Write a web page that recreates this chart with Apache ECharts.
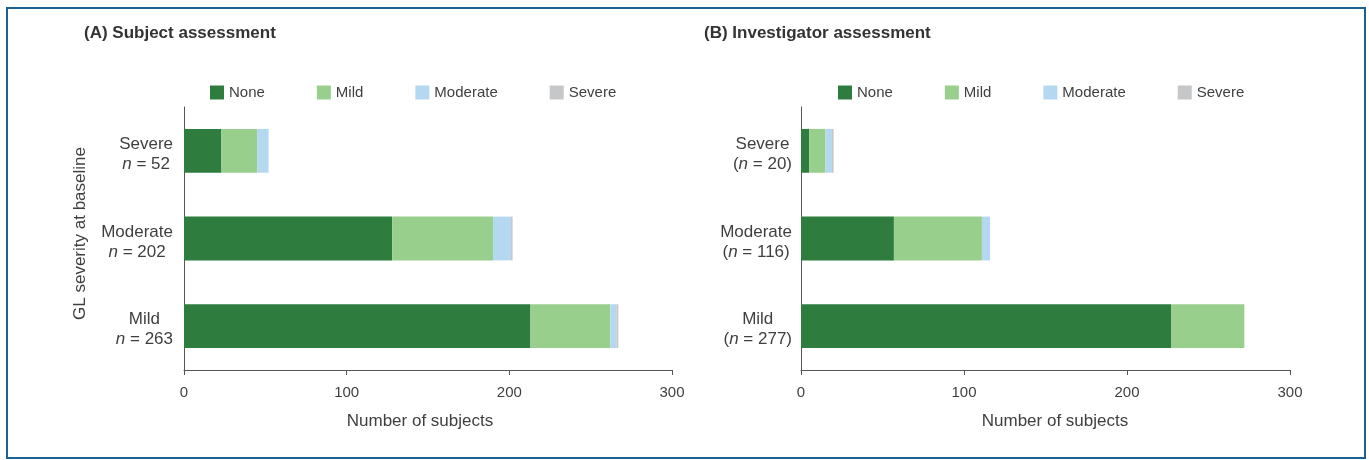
<!DOCTYPE html>
<html>
<head>
<meta charset="utf-8">
<script src="https://cdn.jsdelivr.net/npm/echarts@6/dist/echarts.min.js"></script>
<style>
  html, body { margin: 0; padding: 0; background: #fff; }
  #main { width: 1369px; height: 460px; position: absolute; left: 0; top: 0; }
  #frame {
    position: absolute; left: 6px; top: 7px; width: 1356px; height: 448px;
    border: 2px solid #1d6190; pointer-events: none;
  }
</style>
</head>
<body>
<div id="main"></div>
<div id="frame"></div>
<script>
// categories, bottom to top
const categories = ['Mild', 'Moderate', 'Severe']
const nSubject = [263, 202, 52]
const nInvestigator = [277, 116, 20]
const legendNames = ['None', 'Mild', 'Moderate', 'Severe']
const xTicks = [0, 100, 200, 300]

// (A) subject assessment
const noneA = [213, 128, 23]
const mildA = [49, 62, 22]
const moderateA = [4, 11, 7]
const severeA = [1, 1, 0]

// (B) investigator assessment
const noneB = [227, 57, 5]
const mildB = [45, 54, 10]
const moderateB = [0, 5, 4]
const severeB = [0, 0, 1]

const colors = ['#2e7d3f', '#99cf8c', '#b4d8ef', '#c6c7c9']
const textColor = '#3f3f3f'
const font = '"Liberation Sans", Arial, sans-serif'

let myChart = echarts.init(document.getElementById('main'))

function catLabel(counts, paren) {
  return function (value, idx) {
    let n = counts[idx]
    if (paren) return '{a|' + value + '}\n{a|(}{i|n}{a| = ' + n + ')}'
    return '{a|' + value + '}\n{i|n}{a| = ' + n + '}'
  }
}

const richLabel = {
  a: { fontSize: 17, color: textColor, fontFamily: font, lineHeight: 20, align: 'center' },
  i: { fontSize: 17, color: textColor, fontFamily: font, lineHeight: 20, fontStyle: 'italic', align: 'center' }
}

function xAxisFor(idx, namePad) {
  return {
    gridIndex: idx,
    type: 'value',
    min: xTicks[0],
    max: xTicks[xTicks.length - 1],
    interval: 100,
    name: 'Number of subjects',
    nameLocation: 'middle',
    nameGap: 43,
    nameTextStyle: { fontSize: 17, color: textColor, fontFamily: font, padding: namePad },
    axisLine: { show: true, lineStyle: { color: '#555', width: 1 } },
    axisTick: { show: true, length: 5, lineStyle: { color: '#555' } },
    axisLabel: { fontSize: 15, color: textColor, fontFamily: font, margin: 15 },
    splitLine: { show: false }
  }
}

function makeSeries(stack, xi, lists) {
  return legendNames.map(function (name, k) {
    return {
      name: name,
      type: 'bar',
      stack: stack,
      xAxisIndex: xi,
      yAxisIndex: xi,
      barWidth: '50%',
      itemStyle: { color: colors[k] },
      data: lists[k]
    }
  })
}

let legendBase = {
  data: legendNames,
  top: 80,
  itemWidth: 14,
  itemHeight: 14,
  itemGap: 52,
  icon: 'rect',
  textStyle: { fontSize: 15, color: textColor, fontFamily: font }
}

let option = {
  animation: false,
  color: colors,
  title: [
    { text: '(A) Subject assessment', left: 84, top: 25, padding: 0,
      textStyle: { fontSize: 17, fontWeight: 'bold', color: '#333', fontFamily: font } },
    { text: '(B) Investigator assessment', left: 704, top: 25, padding: 0,
      textStyle: { fontSize: 17, fontWeight: 'bold', color: '#333', fontFamily: font } }
  ],
  legend: [
    Object.assign({}, legendBase, { left: 205 }),
    Object.assign({}, legendBase, { left: 833 })
  ],
  grid: [
    { left: 184, right: 697, top: 107, bottom: 90 },
    { left: 801, right: 79, top: 107, bottom: 90 }
  ],
  xAxis: [xAxisFor(0, [0, 16, 0, 0]), xAxisFor(1, [0, 0, 0, 19])],
  yAxis: [
    {
      gridIndex: 0,
      type: 'category',
      data: categories,
      name: 'GL severity at baseline',
      nameLocation: 'middle',
      nameRotate: 90,
      nameGap: 95,
      nameTextStyle: { fontSize: 17, color: textColor, fontFamily: font, padding: [0, 0, 0, 10] },
      axisLine: { show: true, lineStyle: { color: '#555', width: 1 } },
      axisTick: { show: false },
      axisLabel: { margin: 11, padding: [7, 0, 0, 0], formatter: catLabel(nSubject, false), rich: richLabel }
    },
    {
      gridIndex: 1,
      type: 'category',
      data: categories,
      axisLine: { show: true, lineStyle: { color: '#555', width: 1 } },
      axisTick: { show: false },
      axisLabel: { margin: 9, padding: [7, 0, 0, 0], formatter: catLabel(nInvestigator, true), rich: richLabel }
    }
  ],
  series: makeSeries('a', 0, [noneA, mildA, moderateA, severeA])
    .concat(makeSeries('b', 1, [noneB, mildB, moderateB, severeB]))
}

myChart.setOption(option)
</script>
</body>
</html>
